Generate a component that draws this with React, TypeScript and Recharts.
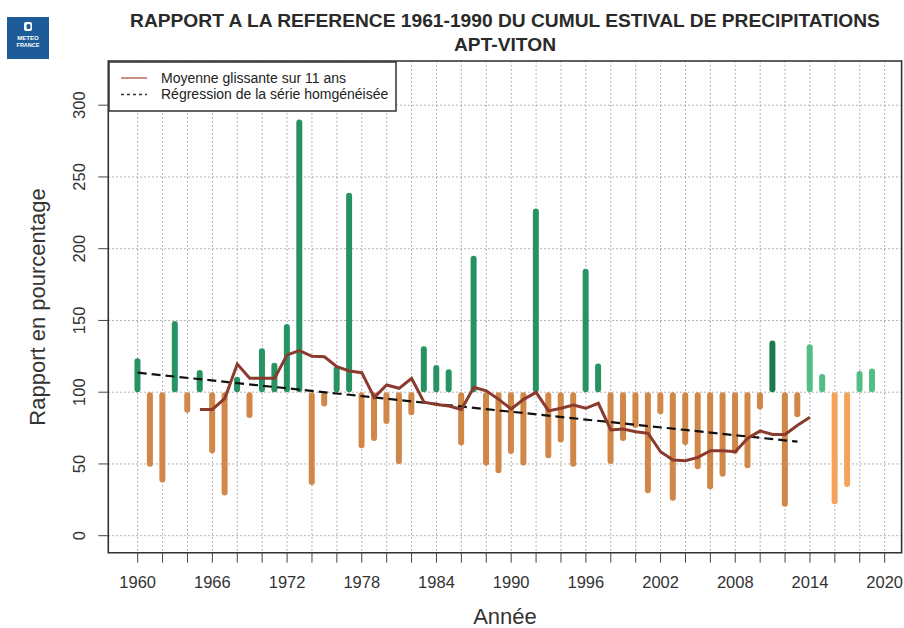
import React from 'react';
import { ComposedChart, Bar, Line, XAxis, YAxis, CartesianGrid, ReferenceArea } from 'recharts';

const years = [
  1960, 1961, 1962, 1963, 1964, 1965, 1966, 1967, 1968, 1969,
  1970, 1971, 1972, 1973, 1974, 1975, 1976, 1977, 1978, 1979,
  1980, 1981, 1982, 1983, 1984, 1985, 1986, 1987, 1988, 1989,
  1990, 1991, 1992, 1993, 1994, 1995, 1996, 1997, 1998, 1999,
  2000, 2001, 2002, 2003, 2004, 2005, 2006, 2007, 2008, 2009,
  2010, 2011, 2012, 2013, 2014, 2015, 2016, 2017, 2018, 2019,
];

const ratio = [
  123.6, 48, 37, 149.6, 85.7, 115.5, 57.4, 28, 110.8, 82,
  130.6, 120.6, 147.5, 290, 35.3, 90, 118, 239, 61, 66,
  77.8, 50, 84, 132, 119, 116, 63, 195, 49, 43.5,
  57, 49, 228, 54, 65, 48, 186, 120, 50, 66,
  75, 29.5, 84.6, 24.4, 63.2, 46.3, 32.3, 41.1, 57, 47,
  88, 136, 20.2, 82.5, 133.4, 112.7, 22, 34, 114.8, 116.6,
];

const movingAvg: (number | null)[] = [
  null, null, null, null, null, 88, 88, 95.7, 119.6, 109.7,
  109.7, 109.7, 126, 129, 125, 124.7, 117.8, 114.8, 113.6, 96.4,
  105, 102.7, 109.7, 93, 91.5, 90.4, 88, 103.4, 101, 95,
  88.3, 95, 99.9, 87, 88.8, 91, 88.8, 92.3, 73.7, 74.4,
  72.5, 71.3, 58.5, 52.7, 52.3, 54.6, 59.2, 59.2, 58.5, 67.9,
  73, 70.6, 70.6, 77, 82.5, null, null, null, null, null,
];

const regressionYears = [1960, 2013];
const regressionValues = [113.6, 65.5];

const yTicks = [0, 50, 100, 150, 200, 250, 300];
const xTicks = [
  1960, 1962, 1964, 1966, 1968, 1970, 1972, 1974, 1976, 1978, 1980,
  1982, 1984, 1986, 1988, 1990, 1992, 1994, 1996, 1998, 2000,
  2002, 2004, 2006, 2008, 2010, 2012, 2014, 2016, 2018, 2020,
];
const xLabelYears = [1960, 1966, 1972, 1978, 1984, 1990, 1996, 2002, 2008, 2014, 2020];

const data = years.map((yr, i) => {
  const ri = regressionYears.indexOf(yr);
  return {
    year: yr,
    ratio: ratio[i],
    range: [Math.min(100, ratio[i]), Math.max(100, ratio[i])],
    ma: movingAvg[i],
    reg: ri >= 0 ? regressionValues[ri] : null,
  };
});

const FONT = '"Liberation Sans", Arial, Helvetica, sans-serif';
const X_DOMAIN: [number, number] = [1957.64, 2021.36];
const Y_DOMAIN: [number, number] = [-11.85, 330.8];

function barColor(year: number, v: number) {
  if (year === 2011) return '#1c7a4b';
  if (year >= 2014) return v >= 100 ? '#52be86' : '#f7a25a';
  return v >= 100 ? '#279363' : '#d08747';
}

const BarShape = (props: any) => {
  const { x, y, width, height, payload } = props;
  if (x == null || y == null || height == null) return null;
  const top = Math.min(y, y + height);
  const h = Math.abs(height);
  return (
    <rect x={x} y={top} width={width} height={h} rx={width / 2} ry={width / 2}
      fill={barColor(payload.year, payload.ratio)} />
  );
};

const XTick = (props: any) => {
  const { x, payload } = props;
  const v = payload.value;
  if (xLabelYears.indexOf(v) < 0) return null;
  return (
    <text x={x} y={588} textAnchor="middle" fontFamily={FONT} fontSize={16.5} fill="#333">
      {v}
    </text>
  );
};

const YTick = (props: any) => {
  const { y, payload } = props;
  const tx = 85;
  return (
    <text x={tx} y={y} transform={`rotate(-90 ${tx} ${y})`} textAnchor="middle"
      fontFamily={FONT} fontSize={16.5} fill="#333">
      {payload.value}
    </text>
  );
};

export default function App() {
  return (
    <div style={{ position: 'absolute', left: 0, top: 0, width: 904, height: 628, background: '#fff' }}>
      <ComposedChart width={904} height={628} data={data}
        margin={{ top: 61, right: 2.4, bottom: 35.3, left: 58.3 }}>
        <CartesianGrid stroke="#999" strokeDasharray="1.5 2.5" strokeWidth={1} />
        <XAxis dataKey="year" type="number" domain={X_DOMAIN} allowDataOverflow
          ticks={xTicks} interval={0} height={40} axisLine={false}
          tickLine={{ stroke: '#444' }} tickSize={10} tick={<XTick />} />
        <YAxis type="number" domain={Y_DOMAIN} allowDataOverflow ticks={yTicks}
          width={50} axisLine={false} tickLine={{ stroke: '#444' }} tickSize={10} tick={<YTick />} />
        <Bar dataKey="range" barSize={6} shape={<BarShape />} isAnimationActive={false} />
        <Line dataKey="reg" type="linear" stroke="#111" strokeWidth={2.2} strokeDasharray="9 5"
          dot={false} connectNulls isAnimationActive={false} />
        <Line dataKey="ma" type="linear" stroke="#8b3a2e" strokeWidth={3} dot={false}
          connectNulls={false} isAnimationActive={false} />
        <ReferenceArea x1={X_DOMAIN[0]} x2={X_DOMAIN[1]} y1={Y_DOMAIN[0]} y2={Y_DOMAIN[1]}
          fill="none" stroke="#333" strokeWidth={1.6} fillOpacity={0} ifOverflow="visible" />
      </ComposedChart>
      <svg width={904} height={628} style={{ position: 'absolute', left: 0, top: 0, pointerEvents: 'none' }}>
        <text x={505} y={27} textAnchor="middle" fontFamily={FONT} fontWeight="bold" fontSize={19.2} fill="#2a2a2a">
          RAPPORT A LA REFERENCE 1961-1990 DU CUMUL ESTIVAL DE PRECIPITATIONS
        </text>
        <text x={505} y={51} textAnchor="middle" fontFamily={FONT} fontWeight="bold" fontSize={19.2} fill="#2a2a2a">
          APT-VITON
        </text>
        <text x={45} y={307} transform="rotate(-90 45 307)" textAnchor="middle" fontFamily={FONT} fontSize={22} fill="#333">
          Rapport en pourcentage
        </text>
        <text x={505} y={624} textAnchor="middle" fontFamily={FONT} fontSize={22} fill="#333">
          Année
        </text>
        <rect x={109} y={62} width={287} height={49} fill="#fff" stroke="#333" strokeWidth={1.5} />
        <line x1={121} y1={78} x2={147} y2={78} stroke="#b86a5c" strokeWidth={1.5} />
        <line x1={121} y1={94.5} x2={147} y2={94.5} stroke="#333" strokeWidth={1.3} strokeDasharray="3 3" />
        <text x={161} y={83} fontFamily={FONT} fontSize={14} fill="#222">Moyenne glissante sur 11 ans</text>
        <text x={161} y={99} fontFamily={FONT} fontSize={14} fill="#222">Régression de la série homgénéisée</text>
        <rect x={7} y={17} width={42} height={42} fill="#1d5c98" />
        <rect x={24} y={22} width={8} height={9} rx={2} fill="#fff" />
        <rect x={26.5} y={24} width={4} height={5} rx={1.5} fill="#1d5c98" />
        <text x={28} y={40} textAnchor="middle" fontFamily={FONT} fontWeight="bold" fontSize={6} fill="#fff">METEO</text>
        <text x={28} y={47} textAnchor="middle" fontFamily={FONT} fontWeight="bold" fontSize={5.5} fill="#fff">FRANCE</text>
      </svg>
    </div>
  );
}
